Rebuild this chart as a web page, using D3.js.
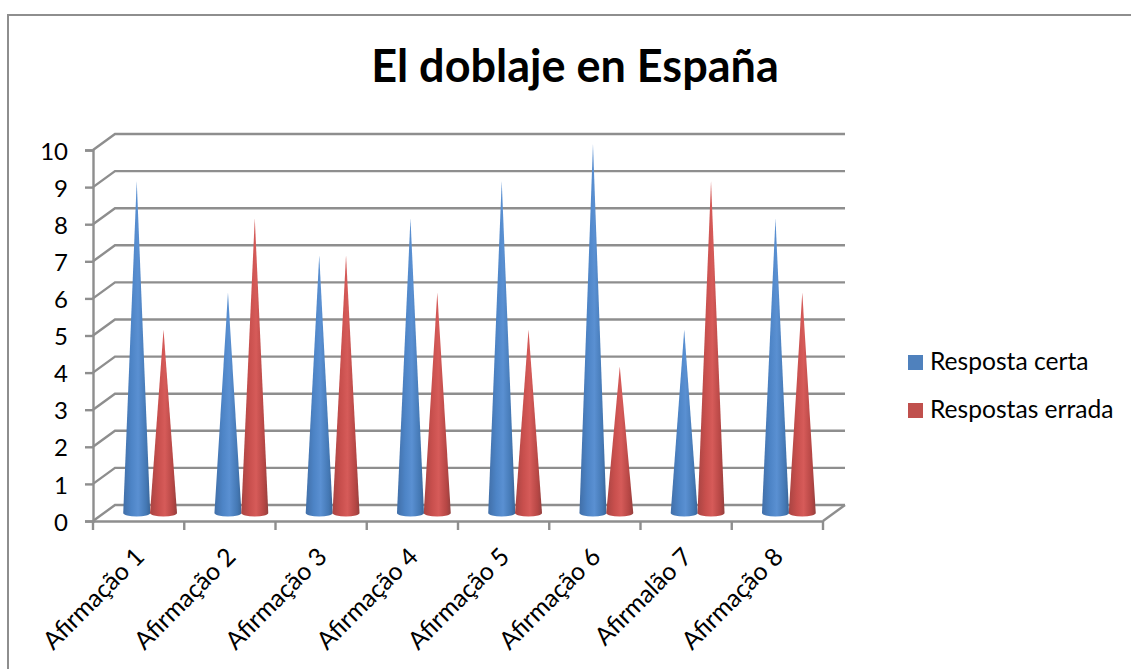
<!DOCTYPE html>
<html><head><meta charset="utf-8">
<script src="https://cdn.jsdelivr.net/npm/d3@7"></script>
<style>html,body{margin:0;padding:0;background:#fff}svg{display:block}text{font-family:Lato,"Open Sans",sans-serif;fill:#000}</style>
</head><body><svg id="c" width="1131" height="669"></svg>
<script>
const chartTitle = "El doblaje en España";
const categories = ["Afirmação 1","Afirmação 2","Afirmação 3","Afirmação 4","Afirmação 5","Afirmação 6","Afirmalão 7","Afirmação 8"];
const seriesNames = ["Resposta certa","Respostas errada"];
const respostaCerta = [9,6,7,8,9,10,5,8];
const respostasErrada = [5,8,7,6,5,4,9,6];
const yTicks = [0,1,2,3,4,5,6,7,8,9,10];

const svg = d3.select("#c");
const grey = "#8e8e8e";
const depth = {dx:22, dy:-16};
const x = d3.scaleBand().domain(categories).range([93,823]).paddingInner(0).paddingOuter(0);
const y = d3.scaleLinear().domain([0,10]).range([521,150]);
const coneShift = {dx:11.5, tipDy:-6, baseDy:-8};
const coneOffset = d3.scaleOrdinal().domain(seriesNames).range([-13.4,13.4]);
const coneR = 13.5, coneRy = 3.5;

const defs = svg.append("defs");
function grad(id, stops){
  const g = defs.append("linearGradient").attr("id",id).attr("x1","0").attr("x2","1").attr("y1","0").attr("y2","0");
  stops.forEach(s=>g.append("stop").attr("offset",s[0]).attr("stop-color",s[1]));
}
grad("gBlue",[[0,"#416fa8"],[0.3,"#4d84c6"],[0.55,"#5a90d2"],[0.85,"#4478b4"],[1,"#3a6597"]]);
grad("gRed",[[0,"#a84442"],[0.3,"#c84f4d"],[0.55,"#d65b59"],[0.85,"#b54644"],[1,"#93403e"]]);

// frame
svg.append("path").attr("d","M8,669V15H1131").attr("fill","none").attr("stroke",grey).attr("stroke-width",2);

// title
svg.append("text").attr("x",575).attr("y",82).attr("text-anchor","middle")
  .style("font-size","45px").style("font-weight","700").text(chartTitle);

// 3D gridlines
const line = d3.line();
svg.append("g").selectAll("path").data(yTicks).join("path")
  .attr("d",t=>line([[x.range()[0],y(t)],[x.range()[0]+depth.dx,y(t)+depth.dy],[x.range()[1]+depth.dx,y(t)+depth.dy]]))
  .attr("fill","none").attr("stroke",grey).attr("stroke-width",2.4);
svg.append("path")
  .attr("d",line([[x.range()[1],y(0)],[x.range()[1]+depth.dx,y(0)+depth.dy]]))
  .attr("fill","none").attr("stroke",grey).attr("stroke-width",2.4);

// axes
const yAxis = svg.append("g").attr("transform",`translate(${x.range()[0]},0)`)
  .call(d3.axisLeft(y).tickValues(yTicks).tickSize(8).tickPadding(17).tickFormat(d3.format("d")));
yAxis.selectAll("text").style("font-size","24px").attr("y",1.5);
const xAxis = svg.append("g").attr("transform",`translate(0,${y(0)})`)
  .call(d3.axisBottom(x).tickSize(0).tickFormat(""));
xAxis.selectAll(".tick line").remove();
xAxis.selectAll(".bt").data([...categories.map(c=>x(c)),x.range()[1]]).join("line").attr("class","bt")
  .attr("x1",d=>d).attr("x2",d=>d).attr("y1",0).attr("y2",9);
[yAxis,xAxis].forEach(a=>{a.selectAll("path.domain").attr("stroke",grey).attr("stroke-width",2.4);
  a.selectAll("line").attr("stroke",grey).attr("stroke-width",2.4);});

// category labels
svg.append("g").selectAll("text").data(categories).join("text")
  .attr("text-anchor","end")
  .attr("transform",d=>`translate(${x(d)+x.bandwidth()/2-5},${y(0)+25}) rotate(-45)`)
  .attr("dy","0.7em")
  .style("font-size","24.8px").text(d=>d);

// cones
function cone(cat,name,val){
  const cx = x(cat)+x.bandwidth()/2+coneShift.dx+coneOffset(name);
  const by = y(0)+coneShift.baseDy, ty = y(val)+coneShift.tipDy;
  return `M${cx},${ty}L${cx+coneR},${by}A${coneR},${coneRy} 0 0 1 ${cx-coneR},${by}Z`;
}
const rows = categories.flatMap((c,i)=>[
  {c,n:seriesNames[0],v:respostaCerta[i],f:"url(#gBlue)"},
  {c,n:seriesNames[1],v:respostasErrada[i],f:"url(#gRed)"}]);
svg.append("g").selectAll("path").data(rows).join("path")
  .attr("d",d=>cone(d.c,d.n,d.v)).attr("fill",d=>d.f);

// legend
const legendColors = d3.scaleOrdinal().domain(seriesNames).range(["#4f81bd","#c0504d"]);
const legendY = d3.scalePoint().domain(seriesNames).range([362,410]);
const lg = svg.append("g").selectAll("g").data(seriesNames).join("g")
  .attr("transform",d=>`translate(908,${legendY(d)})`);
lg.append("rect").attr("x",0).attr("y",-7).attr("width",15).attr("height",15).attr("fill",d=>legendColors(d));
lg.append("text").attr("x",22).attr("y",8).style("font-size","24.6px").text(d=>d);
</script></body></html>
